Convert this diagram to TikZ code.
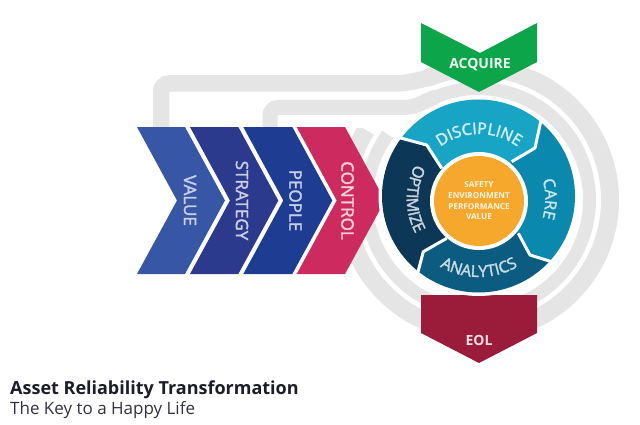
\documentclass[tikz,border=0pt]{standalone}
\usepackage{fontspec}
\setmainfont{Open Sans}
\newfontfamily\osemi{Open Sans}[FakeBold=2]
\usetikzlibrary{calc,decorations.text}
\definecolor{keygray}{HTML}{E5E5E5}
\definecolor{cvalue}{HTML}{3756A6}
\definecolor{cstrategy}{HTML}{2C3A8E}
\definecolor{cpeople}{HTML}{1D3C92}
\definecolor{ccontrol}{HTML}{CD2A60}
\definecolor{cdisc}{HTML}{18A5C5}
\definecolor{ccare}{HTML}{0A88AE}
\definecolor{canaly}{HTML}{0B5C80}
\definecolor{coptim}{HTML}{0C3756}
\definecolor{corange}{HTML}{F6A82C}
\definecolor{cacq}{HTML}{0CA54A}
\definecolor{ceol}{HTML}{9B1B3B}
\definecolor{ctitle}{HTML}{1C1C2B}
\newcommand\dialfont{\osemi\fontsize{16}{18}\selectfont}
\tikzset{
  chevtext/.style={rotate=-90, font=\osemi\fontsize{17}{20}\selectfont, inner sep=0},
  bandtext/.style={font=\fontsize{14}{16}\selectfont\bfseries, inner sep=0},
  sepline/.style={white, line width=3, line join=round},
}
\begin{document}
\begin{tikzpicture}[x=1pt,y=1pt]
\useasboundingbox (0,0) rectangle (640,424);
\fill[white] (0,0) rectangle (640,424);

\coordinate (Cd) at (478.5,228);
\coordinate (Cc) at (479,223);
\coordinate (Cr) at (478,224);
\coordinate (Ct) at (479,225);

% ---- key: rings and shaft ----
\begin{scope}
  \clip (0,0) -- (640,0) -- (640,424) -- (418,424) -- (418,296) -- (0,296) -- cycle;
  \draw[keygray, line width=18] ($(Cr)+(113:132)$) arc[start angle=113, end angle=-212, radius=132];
  \draw[keygray, line width=13] ($(Cr)+(113:111.5)$) arc[start angle=113, end angle=-216, radius=111.5];
\end{scope}
\draw[keygray, line width=16.5, rounded corners=8, line cap=round] (161,292) -- (161,340.5) -- (403,340.5) -- ($(Cr)+(113:132)$);
\draw[keygray, line width=15, rounded corners=8, line cap=round] (270,292) -- (270,316.5) -- (412,316.5) -- ($(Cr)+(113:111.5)$);

% ---- chevrons ----
\fill[cvalue]    (137,297) -- (185,297) -- (225,223.5) -- (185,150) -- (137,150) -- (177,223.5) -- cycle;
\fill[cstrategy] (190,297) -- (238.3,297) -- (278.3,223.5) -- (238.3,150) -- (190,150) -- (230,223.5) -- cycle;
\fill[cpeople]   (243.3,297) -- (292.3,297) -- (332.3,223.5) -- (292.3,150) -- (243.3,150) -- (283.3,223.5) -- cycle;
\fill[ccontrol]  (296.7,297) -- (345,297) -- (385,223.5) -- (345,150) -- (296.7,150) -- (336.7,223.5) -- cycle;
\node[chevtext, text=white!72!cvalue]    (tvalue)    at (190,223.5) {VALUE};
\node[chevtext, text=white!75!cstrategy] (tstrategy) at (242,223.5) {STRATEGY};
\node[chevtext, text=white!75!cpeople]   (tpeople)   at (295.5,223.5) {PEOPLE};
\node[chevtext, text=white!78!ccontrol]  (tcontrol)  at (347.5,223.5) {CONTROL};

% ---- acquire / eol ----
\fill[cacq] (421,401) -- (480,371) -- (537,401) -- (537,362) -- (479,332) -- (421,362) -- cycle;
\node[bandtext, text=white!92!cacq] (tacq) at (480,359) {ACQUIRE};
\fill[ceol] (421,129) -- (537,129) -- (537,91) -- (479,61) -- (421,91) -- cycle;
\node[bandtext, text=white!85!ceol] (teol) at (479,84) {EOL};

% ---- dial ----
\fill[white] (Cd) circle (100);
\coordinate (I1) at (441.7,255.7); \coordinate (M1) at (426.7,279);   \coordinate (E1) at (326.7,305.8);
\coordinate (I2) at (511.7,262.3); \coordinate (M2) at (535,276);     \coordinate (E2) at (555,368);
\coordinate (I3) at (518.3,190.7); \coordinate (M3) at (530,169);     \coordinate (E3) at (636.8,135.8);
\coordinate (I4) at (446.7,185.7); \coordinate (M4) at (423.3,172.3); \coordinate (E4) at (396.9,72.3);
\begin{scope}
  \clip (Cd) circle (96.5);
  \fill[cdisc]  (Cc) -- (I1) -- (M1) -- (E1) -- (300,520) -- (660,520) -- (E2) -- (M2) -- (I2) -- cycle;
  \fill[ccare]  (Cc) -- (I2) -- (M2) -- (E2) -- (700,520) -- (700,100) -- (E3) -- (M3) -- (I3) -- cycle;
  \fill[canaly] (Cc) -- (I3) -- (M3) -- (E3) -- (700,-100) -- (300,-100) -- (E4) -- (M4) -- (I4) -- cycle;
  \fill[coptim] (Cc) -- (I4) -- (M4) -- (E4) -- (250,-100) -- (250,520) -- (E1) -- (M1) -- (I1) -- cycle;
\end{scope}
\begin{scope}
  \clip (Cd) circle (99);
  \draw[sepline] (I1) -- (M1) -- (E1);
  \draw[sepline] (I2) -- (M2) -- (E2);
  \draw[sepline] (I3) -- (M3) -- (E3);
  \draw[sepline] (I4) -- (M4) -- (E4);
\end{scope}
\fill[white] (Cc) circle (49);
\fill[corange] (Cc) circle (45);
\node[align=center, font=\fontsize{8.2}{10.7}\selectfont\bfseries, text=white!88!corange, inner sep=0] (tcenter) at (Cc) {SAFETY\\ENVIRONMENT\\PERFORMANCE\\VALUE};

\path[decorate, decoration={text along path, text align=center, text color=white!80!cdisc, text={|\dialfont|DISCIPLINE}}]
  ($(Ct)+(140:65)$) arc[start angle=140, end angle=40, radius=65];
\path[decorate, decoration={text along path, text align=center, text color=white!78!ccare, text={|\dialfont|CARE}}]
  ($(Ct)+(32:66.3)$) arc[start angle=32, end angle=-32, radius=66.3];
\path[decorate, decoration={text along path, text align=center, text color=white!78!canaly, text={|\dialfont|ANALYTICS}}]
  ($(Ct)+(-135:78)$) arc[start angle=-135, end angle=-45, radius=78];
\path[decorate, decoration={text along path, text align=center, text color=white!78!coptim, text={|\dialfont|OPTIMIZE}}]
  ($(Ct)+(142:72.2)$) arc[start angle=142, end angle=218, radius=72.2];

% ---- title ----
\node[anchor=base west, font=\fontsize{18}{21}\selectfont\bfseries, text=ctitle, inner sep=0] (title) at (10,29.5) {Asset Reliability Transformation};
\node[anchor=base west, font=\fontsize{17}{20}\selectfont, text=ctitle!90!white, inner sep=0] (subtitle) at (10,10) {The Key to a Happy Life};
\end{tikzpicture}
\end{document}
